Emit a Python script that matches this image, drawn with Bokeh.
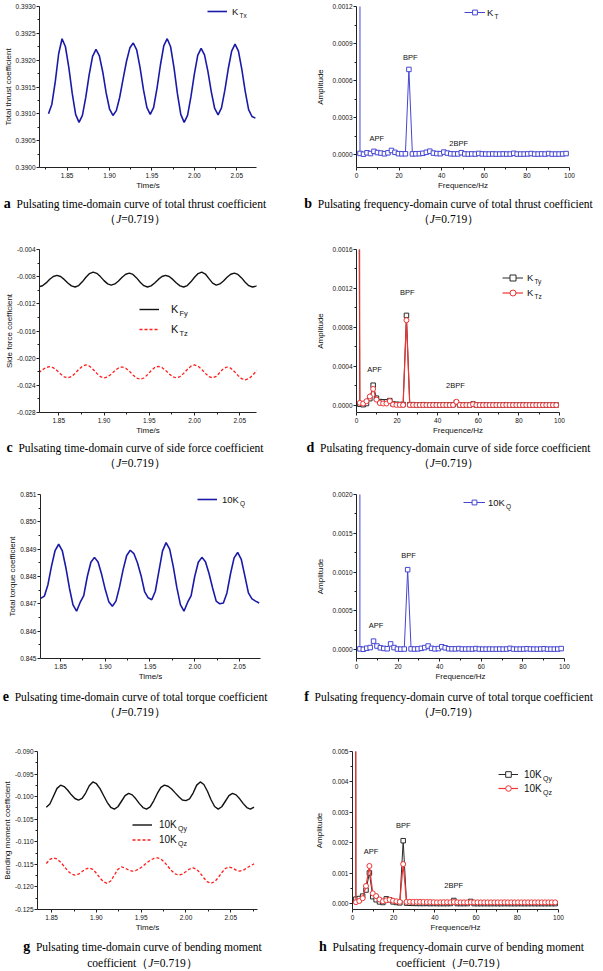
from bokeh.plotting import figure
from bokeh.models import (Range1d, FixedTicker, PrintfTickFormatter, Legend,
                          LegendItem, Label, Div)
from bokeh.layouts import column, row
from bokeh.embed import file_html
from bokeh.resources import INLINE

# ---------------- data ----------------
time_s = [1.828, 1.832, 1.836, 1.840, 1.844, 1.848, 1.852, 1.856, 1.860, 1.864,
          1.868, 1.872, 1.876, 1.880, 1.884, 1.888, 1.892, 1.896, 1.900, 1.904,
          1.908, 1.912, 1.916, 1.920, 1.924, 1.928, 1.932, 1.936, 1.940, 1.944,
          1.948, 1.952, 1.956, 1.960, 1.964, 1.968, 1.972, 1.976, 1.980, 1.984,
          1.988, 1.992, 1.996, 2.000, 2.004, 2.008, 2.012, 2.016, 2.020, 2.024,
          2.028, 2.032, 2.036, 2.040, 2.044, 2.048, 2.052, 2.056, 2.060, 2.064,
          2.068, 2.072, 2.076]

k_tx = [0.39100, 0.39118, 0.39160, 0.39212, 0.39240,
        0.39225, 0.39186, 0.39138, 0.39099, 0.39084,
        0.39097, 0.39131, 0.39173, 0.39207, 0.39220,
        0.39208, 0.39178, 0.39139, 0.39109, 0.39097,
        0.39106, 0.39131, 0.39165, 0.39198, 0.39223, 0.39232,
        0.39219, 0.39186, 0.39145, 0.39112, 0.39099,
        0.39112, 0.39148, 0.39191, 0.39227, 0.39240,
        0.39225, 0.39186, 0.39138, 0.39099, 0.39084,
        0.39097, 0.39132, 0.39174, 0.39209, 0.39222,
        0.39210, 0.39179, 0.39141, 0.39110, 0.39098,
        0.39111, 0.39144, 0.39184, 0.39217, 0.39230,
        0.39217, 0.39183, 0.39142, 0.39108, 0.39095, 0.39092]

k_fy = [-0.00950, -0.00934, -0.00892, -0.00839, -0.00797, -0.00781,
        -0.00797, -0.00840, -0.00893, -0.00936, -0.00952,
        -0.00931, -0.00876, -0.00809, -0.00754, -0.00733,
        -0.00751, -0.00799, -0.00858, -0.00906, -0.00924,
        -0.00907, -0.00863, -0.00809, -0.00765, -0.00748,
        -0.00767, -0.00818, -0.00882, -0.00933, -0.00952,
        -0.00936, -0.00893, -0.00840, -0.00797, -0.00781,
        -0.00797, -0.00840, -0.00893, -0.00936, -0.00952,
        -0.00931, -0.00876, -0.00809, -0.00754, -0.00733,
        -0.00761, -0.00829, -0.00896, -0.00924,
        -0.00907, -0.00863, -0.00809, -0.00765, -0.00748,
        -0.00767, -0.00818, -0.00882, -0.00933, -0.00952,
        -0.00940, -0.00915]

k_tz = [-0.02215, -0.02170, -0.02137, -0.02125,
        -0.02141, -0.02182, -0.02233, -0.02274, -0.02290,
        -0.02272, -0.02224, -0.02166, -0.02118, -0.02100,
        -0.02118, -0.02166, -0.02224, -0.02272, -0.02290,
        -0.02275, -0.02235, -0.02185, -0.02145, -0.02130,
        -0.02147, -0.02192, -0.02248, -0.02293, -0.02310,
        -0.02292, -0.02244, -0.02186, -0.02138, -0.02120,
        -0.02136, -0.02179, -0.02231, -0.02274, -0.02290,
        -0.02272, -0.02224, -0.02166, -0.02118, -0.02100,
        -0.02118, -0.02166, -0.02224, -0.02272, -0.02290,
        -0.02267, -0.02210, -0.02153, -0.02130,
        -0.02148, -0.02196, -0.02254, -0.02302, -0.02320,
        -0.02302, -0.02254, -0.02196, -0.02148]

ten_kq = [0.84720, 0.84728, 0.84770, 0.84838, 0.84895, 0.84918,
          0.84895, 0.84833, 0.84758, 0.84696, 0.84673,
          0.84705, 0.84730, 0.84800, 0.84852, 0.84870,
          0.84853, 0.84808, 0.84753, 0.84708, 0.84691,
          0.84710, 0.84762, 0.84825, 0.84877, 0.84896,
          0.84884, 0.84850, 0.84804, 0.84745, 0.84722, 0.84715,
          0.84746, 0.84820, 0.84893, 0.84924,
          0.84900, 0.84837, 0.84760, 0.84697, 0.84673,
          0.84705, 0.84730, 0.84800, 0.84852, 0.84870,
          0.84854, 0.84811, 0.84758, 0.84710, 0.84700,
          0.84703, 0.84740, 0.84810, 0.84868, 0.84888,
          0.84863, 0.84802, 0.84740, 0.84718, 0.84710, 0.84703]

# bending moment series start at the 5th time sample
ten_kqy = [-0.10235, -0.10164, -0.09991, -0.09817, -0.09746,
           -0.09777, -0.09858, -0.09960, -0.10041, -0.10075,
           -0.10040, -0.09920, -0.09760, -0.09674,
           -0.09714, -0.09824, -0.09975, -0.10125, -0.10235, -0.10275,
           -0.10224, -0.10102, -0.09979, -0.09928,
           -0.09961, -0.10048, -0.10155, -0.10242, -0.10275,
           -0.10225, -0.10092, -0.09929, -0.09796, -0.09746,
           -0.09769, -0.09831, -0.09917, -0.10002, -0.10075, -0.10087,
           -0.10050, -0.09920, -0.09745, -0.09674,
           -0.09731, -0.09881, -0.10068, -0.10218, -0.10275,
           -0.10224, -0.10102, -0.09979, -0.09928,
           -0.09961, -0.10048, -0.10155, -0.10242, -0.10275, -0.10232]

ten_kqz = [-0.11480, -0.11390, -0.11355,
           -0.11381, -0.11451, -0.11547, -0.11643, -0.11713, -0.11739,
           -0.11716, -0.11660, -0.11603, -0.11580,
           -0.11612, -0.11697, -0.11803, -0.11888, -0.11920,
           -0.11867, -0.11739, -0.11611, -0.11558,
           -0.11582, -0.11628, -0.11652,
           -0.11637, -0.11596, -0.11537, -0.11470, -0.11411, -0.11370, -0.11355,
           -0.11381, -0.11451, -0.11547, -0.11643, -0.11713, -0.11739,
           -0.11716, -0.11660, -0.11603, -0.11580,
           -0.11612, -0.11697, -0.11803, -0.11888, -0.11920,
           -0.11886, -0.11795, -0.11683, -0.11592, -0.11558,
           -0.11582, -0.11628, -0.11652,
           -0.11630, -0.11580, -0.11530, -0.11490]

freq_hz = [0.0, 1.64, 3.28, 4.92, 6.56, 8.2, 9.84, 11.48, 13.12, 14.76,
           16.4, 18.04, 19.68, 21.32, 22.96, 24.6, 26.24, 27.88, 29.52, 31.16,
           32.8, 34.44, 36.08, 37.72, 39.36, 41.0, 42.64, 44.28, 45.92, 47.56,
           49.2, 50.84, 52.48, 54.12, 55.76, 57.4, 59.04, 60.68, 62.32, 63.96,
           65.6, 67.24, 68.88, 70.52, 72.16, 73.8, 75.44, 77.08, 78.72, 80.36,
           82.0, 83.64, 85.28, 86.92, 88.56, 90.2, 91.84, 93.48, 95.12, 96.76,
           98.4]

amp_kt = [0.3916, 9e-6, 3e-6, 14e-6, 8e-6, 26e-6, 16e-6, 12e-6, 6e-6, 14e-6,
          33e-6, 18e-6, 7e-6, 6e-6, 6e-6, 690e-6, 5e-6, 6e-6, 7e-6, 10e-6,
          18e-6, 27e-6, 12e-6, 8e-6, 7e-6, 20e-6, 12e-6, 6e-6, 5e-6, 5e-6,
          15e-6, 5e-6, 4e-6, 5e-6, 4e-6, 9e-6, 5e-6, 4e-6, 4e-6, 5e-6,
          4e-6, 4e-6, 5e-6, 4e-6, 4e-6, 10e-6, 4e-6, 4e-6, 4e-6, 5e-6,
          8e-6, 4e-6, 4e-6, 5e-6, 4e-6, 8e-6, 4e-6, 4e-6, 4e-6, 5e-6,
          8e-6]

amp_kty = [0.0086, 12e-6, 8e-6, 20e-6, 70e-6, 208e-6, 75e-6, 40e-6, 38e-6, 38e-6,
           50e-6, 15e-6, 12e-6, 10e-6, 10e-6, 924e-6, 8e-6, 8e-6, 6e-6, 7e-6,
           8e-6, 6e-6, 5e-6, 6e-6, 7e-6, 5e-6, 6e-6, 5e-6, 6e-6, 7e-6,
           30e-6, 5e-6, 5e-6, 4e-6, 5e-6, 15e-6, 5e-6, 4e-6, 4e-6, 5e-6,
           4e-6, 4e-6, 5e-6, 4e-6, 4e-6, 6e-6, 4e-6, 4e-6, 4e-6, 5e-6,
           5e-6, 4e-6, 4e-6, 5e-6, 4e-6, 5e-6, 4e-6, 4e-6, 4e-6, 4e-6,
           5e-6]

amp_ktz = [0.0222, 27e-6, 20e-6, 44e-6, 92e-6, 170e-6, 60e-6, 25e-6, 20e-6, 20e-6,
           45e-6, 10e-6, 6e-6, 6e-6, 5e-6, 875e-6, 5e-6, 5e-6, 4e-6, 5e-6,
           5e-6, 4e-6, 4e-6, 5e-6, 4e-6, 4e-6, 5e-6, 4e-6, 4e-6, 5e-6,
           38e-6, 5e-6, 4e-6, 4e-6, 4e-6, 12e-6, 4e-6, 4e-6, 4e-6, 4e-6,
           4e-6, 4e-6, 4e-6, 4e-6, 4e-6, 5e-6, 4e-6, 4e-6, 4e-6, 4e-6,
           4e-6, 4e-6, 4e-6, 4e-6, 4e-6, 4e-6, 4e-6, 4e-6, 4e-6, 4e-6,
           4e-6]

amp_10kq = [0.848, 8e-6, 3e-6, 17e-6, 25e-6, 108e-6, 45e-6, 22e-6, 14e-6, 10e-6,
            72e-6, 25e-6, 6e-6, 5e-6, 6e-6, 1030e-6, 8e-6, 6e-6, 8e-6, 15e-6,
            25e-6, 45e-6, 15e-6, 8e-6, 12e-6, 35e-6, 22e-6, 10e-6, 8e-6, 8e-6,
            12e-6, 6e-6, 6e-6, 7e-6, 6e-6, 12e-6, 6e-6, 5e-6, 5e-6, 6e-6,
            5e-6, 5e-6, 6e-6, 5e-6, 6e-6, 15e-6, 6e-6, 5e-6, 5e-6, 6e-6,
            10e-6, 6e-6, 5e-6, 5e-6, 6e-6, 10e-6, 5e-6, 5e-6, 5e-6, 6e-6,
            12e-6]

amp_10kqy = [0.1010, 150e-6, 170e-6, 250e-6, 450e-6, 1010e-6, 230e-6, 130e-6, 60e-6, 40e-6,
             160e-6, 130e-6, 60e-6, 40e-6, 30e-6, 2070e-6, 20e-6, 15e-6, 12e-6, 10e-6,
             8e-6, 8e-6, 10e-6, 6e-6, 8e-6, 6e-6, 5e-6, 6e-6, 5e-6, 8e-6,
             106e-6, 6e-6, 5e-6, 5e-6, 6e-6, 74e-6, 5e-6, 4e-6, 4e-6, 5e-6,
             4e-6, 4e-6, 5e-6, 4e-6, 4e-6, 6e-6, 4e-6, 4e-6, 4e-6, 5e-6,
             4e-6, 4e-6, 4e-6, 5e-6, 4e-6, 4e-6, 4e-6, 4e-6, 4e-6, 4e-6,
             4e-6]

amp_10kqz = [0.1169, 50e-6, 90e-6, 180e-6, 583e-6, 1240e-6, 340e-6, 250e-6, 140e-6, 80e-6,
             110e-6, 130e-6, 100e-6, 80e-6, 60e-6, 1300e-6, 60e-6, 65e-6, 60e-6, 62e-6,
             60e-6, 58e-6, 55e-6, 55e-6, 50e-6, 45e-6, 48e-6, 50e-6, 50e-6, 48e-6,
             55e-6, 48e-6, 45e-6, 45e-6, 45e-6, 50e-6, 45e-6, 45e-6, 45e-6, 45e-6,
             45e-6, 45e-6, 45e-6, 45e-6, 45e-6, 48e-6, 45e-6, 45e-6, 45e-6, 45e-6,
             45e-6, 45e-6, 45e-6, 45e-6, 45e-6, 45e-6, 45e-6, 45e-6, 45e-6, 45e-6,
             45e-6]

time_ticks = [1.85, 1.90, 1.95, 2.00, 2.05]
freq_ticks = [0, 20, 40, 60, 80, 100]
a_yticks = [0.3900, 0.3905, 0.3910, 0.3915, 0.3920, 0.3925, 0.3930]
b_yticks = [0.0, 0.0003, 0.0006, 0.0009, 0.0012]
c_yticks = [-0.028, -0.024, -0.020, -0.016, -0.012, -0.008, -0.004]
d_yticks = [0.0, 0.0004, 0.0008, 0.0012, 0.0016]
e_yticks = [0.845, 0.846, 0.847, 0.848, 0.849, 0.850, 0.851]
f_yticks = [0.0, 0.0005, 0.0010, 0.0015, 0.0020]
g_yticks = [-0.125, -0.120, -0.115, -0.110, -0.105, -0.100, -0.095, -0.090]
h_yticks = [0.0, 0.001, 0.002, 0.003, 0.004, 0.005]

# ---------------- styling ----------------
SANS = "Liberation Sans"
AXC = "#222222"
BLUE_T = "#1a1aa8"
BLUE_F = "#4646d2"
BLACK = "#111111"
RED = "#ff1c1c"
DBLACK = "#2a2a2a"
DRED = "#f03434"

t_main = time_s[:62]
t_g = time_s[4:]


def base_fig(w, h, xr, yr, bl, br, bt, bb):
    p = figure(width=w, height=h, x_range=Range1d(*xr), y_range=Range1d(*yr),
               output_backend="svg", toolbar_location=None, title=None,
               min_border_left=bl, min_border_right=br,
               min_border_top=bt, min_border_bottom=bb)
    p.xgrid.visible = False
    p.ygrid.visible = False
    p.outline_line_color = None
    p.background_fill_color = "white"
    p.border_fill_color = "white"
    return p


def style_axes(p, xt, xfmt, yt, yfmt, xlabel, ylabel, ylab_standoff):
    for ax, ticks, fmt, lab in ((p.xaxis[0], xt, xfmt, xlabel),
                                (p.yaxis[0], yt, yfmt, ylabel)):
        step = ticks[1] - ticks[0]
        minor = ([ticks[0] - step / 2] +
                 [(a + b) / 2 for a, b in zip(ticks[:-1], ticks[1:])] +
                 [ticks[-1] + step / 2])
        ax.ticker = FixedTicker(ticks=ticks, minor_ticks=minor)
        ax.formatter = PrintfTickFormatter(format=fmt)
        ax.axis_label = lab
        ax.axis_label_text_font = SANS
        ax.axis_label_text_font_size = "8px"
        ax.axis_label_text_font_style = "normal"
        ax.axis_label_text_color = "#111111"
        ax.major_label_text_font = SANS
        ax.major_label_text_font_size = "6.5px"
        ax.major_label_text_color = "#111111"
        ax.axis_line_color = AXC
        ax.major_tick_line_color = AXC
        ax.minor_tick_line_color = AXC
        ax.major_tick_in = 0
        ax.major_tick_out = 3
        ax.minor_tick_in = 0
        ax.minor_tick_out = 2
    p.xaxis[0].major_label_standoff = 2
    p.xaxis[0].axis_label_standoff = 0
    p.yaxis[0].major_label_standoff = 1
    p.yaxis[0].axis_label_standoff = ylab_standoff


def add_legend(p, items, vx, vy, gw, standoff, h, font):
    leg = Legend(items=[LegendItem(label=lab, renderers=rs) for lab, rs in items],
                 location=(vx, vy), padding=0, spacing=0, margin=0,
                 glyph_width=gw, glyph_height=h, label_height=h,
                 label_standoff=standoff, label_text_font=SANS,
                 label_text_font_size=f"{font}px", label_text_color="#111111",
                 border_line_color=None, background_fill_alpha=0)
    p.add_layout(leg)


def sub(p, text, x, y, size):
    p.add_layout(Label(x=x, y=y, x_units="screen", y_units="screen", text=text,
                       text_font=SANS, text_font_size=f"{size}px",
                       text_color="#111111", text_align="left",
                       text_baseline="middle"))


def note(p, text, x, y):
    p.add_layout(Label(x=x, y=y, text=text, text_font=SANS,
                       text_font_size="7.5px", text_color="#111111",
                       text_align="center", text_baseline="middle"))


def caption(letter, line1, line2, width, inner_w, height, pad_top, lh):
    html = ('<div style="width:%dpx;padding-top:%spx;line-height:%spx;'
            'text-align:center;white-space:nowrap;'
            'font-family:\'Liberation Serif\',serif;font-size:11.5px;color:#000">'
            '<b style="font-size:14px">%s</b>&nbsp;&nbsp;%s<br>%s</div>'
            % (inner_w, pad_top, lh, letter, line1, line2))
    return Div(text=html, width=width, height=height, margin=0)


J = "（<i>J</i>=0.719）"

# ---------------- a ----------------
pa = base_fig(312, 192, (1.8174, 2.0733), (0.3900, 0.3930), 36, 56, 5, 24)
style_axes(pa, time_ticks, "%.2f", a_yticks, "%.4f", "Time/s",
           "Total thrust coefficient", 0)
ra = pa.line(t_main, k_tx, line_color=BLUE_T, line_width=1.6)
add_legend(pa, [("K", [ra])], 168, 150, 20, 5, 12, 9.5)
sub(pa, "Tx", 200, 152.5, 6.5)

# ---------------- b ----------------
pb = base_fig(291, 192, (0, 100), (-0.000105, 0.0012), 39, 34, 6, 24)
style_axes(pb, freq_ticks, "%d", b_yticks, "%.4f", "Frequence/Hz", "Amplitude", 5)
rbl = pb.line(freq_hz, amp_kt, line_color=BLUE_F, line_width=1)
rbs = pb.scatter(freq_hz, amp_kt, marker="square", size=4.5, line_color=BLUE_F,
                 fill_color="white", line_width=1)
note(pb, "BPF", 25.2, 0.000784)
note(pb, "APF", 9.5, 0.000127)
note(pb, "2BPF", 48, 0.000089)
add_legend(pb, [("K", [rbl, rbs])], 108, 149, 21, 2, 12, 9.5)
sub(pb, "T", 138, 151.5, 6.5)

# ---------------- c ----------------
pc = base_fig(312, 214, (1.8287, 2.0685), (-0.028, -0.004), 39, 56, 23, 23)
style_axes(pc, time_ticks, "%.2f", c_yticks, "%.3f", "Time/s",
           "Side force coefficient", 0)
rc1 = pc.line(t_main, k_fy, line_color=BLACK, line_width=1.4)
rc2 = pc.line(t_main, k_tz, line_color=RED, line_width=1.3, line_dash="3 2")
add_legend(pc, [("K", [rc1]), ("K", [rc2])], 100, 73, 20, 12, 20, 11)
sub(pc, "Fy", 140, 99, 7.5)
sub(pc, "Tz", 140, 79, 7.5)

# ---------------- d ----------------
pd_ = base_fig(291, 214, (0, 100), (-0.000072, 0.0016), 39, 44, 23, 28)
style_axes(pd_, freq_ticks, "%d", d_yticks, "%.4f", "Frequence/Hz", "Amplitude", 5)
rd1 = pd_.line(freq_hz, amp_kty, line_color=DBLACK, line_width=1)
rd1s = pd_.scatter(freq_hz, amp_kty, marker="square", size=4.5, line_color=DBLACK,
                   fill_color="white", line_width=1)
rd2 = pd_.line(freq_hz, amp_ktz, line_color=DRED, line_width=1.2)
rd2s = pd_.scatter(freq_hz, amp_ktz, marker="circle", size=5, line_color=DRED,
                   fill_color="white", line_width=1)
note(pd_, "BPF", 25, 0.001156)
note(pd_, "APF", 8.9, 0.000368)
note(pd_, "2BPF", 48.7, 0.000201)
add_legend(pd_, [("K", [rd1, rd1s]), ("K", [rd2, rd2s])], 146, 112.5, 21, 4, 15, 9.5)
sub(pd_, "Ty", 178, 131.5, 6.5)
sub(pd_, "Tz", 178, 116.5, 6.5)

# ---------------- e ----------------
pe = base_fig(312, 212, (1.8277, 2.0735), (0.845, 0.851), 40, 52, 20, 24)
style_axes(pe, time_ticks, "%.2f", e_yticks, "%.3f", "Time/s",
           "Total torque coefficient", 0)
re_ = pe.line(t_main, ten_kq, line_color=BLUE_T, line_width=1.6)
add_legend(pe, [("10K", [re_])], 157, 153, 20, 5, 12, 9.5)
sub(pe, "Q", 199.5, 155.5, 6.5)

# ---------------- f ----------------
pf = base_fig(291, 212, (0, 100), (-0.000116, 0.002), 39, 39, 20, 28)
style_axes(pf, freq_ticks, "%d", f_yticks, "%.4f", "Frequence/Hz", "Amplitude", 5)
rfl = pf.line(freq_hz, amp_10kq, line_color=BLUE_F, line_width=1)
rfs = pf.scatter(freq_hz, amp_10kq, marker="square", size=4.5, line_color=BLUE_F,
                 fill_color="white", line_width=1)
note(pf, "BPF", 25, 0.001215)
note(pf, "APF", 9.4, 0.00031)
add_legend(pf, [("10K", [rfl, rfs])], 107, 150, 22, 3, 12, 9.5)
sub(pf, "Q", 149.5, 152.5, 6.5)

# ---------------- g ----------------
pg = base_fig(312, 218, (1.8342, 2.0799), (-0.125, -0.090), 35, 55, 33, 24)
style_axes(pg, time_ticks, "%.2f", g_yticks, "%.3f", "Time/s",
           "Bending moment coefficient", 0)
rg1 = pg.line(t_g, ten_kqy, line_color=BLACK, line_width=1.4)
rg2 = pg.line(t_g, ten_kqz, line_color=RED, line_width=1.3, line_dash="3 2")
add_legend(pg, [("10K", [rg1]), ("10K", [rg2])], 95, 62.5, 20, 7, 15, 10)
sub(pg, "Qy", 140.5, 81.5, 7)
sub(pg, "Qz", 140.5, 66.5, 7)

# ---------------- h ----------------
ph = base_fig(291, 218, (0, 100), (-0.00019, 0.005), 39, 45, 29, 27)
style_axes(ph, freq_ticks, "%d", h_yticks, "%.3f", "Frequence/Hz", "Amplitude", 5)
rh1 = ph.line(freq_hz, amp_10kqy, line_color=DBLACK, line_width=1)
rh1s = ph.scatter(freq_hz, amp_10kqy, marker="square", size=4.5, line_color=DBLACK,
                  fill_color="white", line_width=1)
rh2 = ph.line(freq_hz, amp_10kqz, line_color=DRED, line_width=1.2)
rh2s = ph.scatter(freq_hz, amp_10kqz, marker="circle", size=5, line_color=DRED,
                  fill_color="white", line_width=1)
note(ph, "BPF", 24.7, 0.00258)
note(ph, "APF", 9, 0.00172)
note(ph, "2BPF", 49.1, 0.0006)
add_legend(ph, [("10K", [rh1, rh1s]), ("10K", [rh2, rh2s])], 146, 114, 20, 6, 14, 10)
sub(ph, "Qy", 190.5, 131.5, 7)
sub(ph, "Qz", 190.5, 117.5, 7)

# ---------------- captions ----------------
ca = caption("a", "Pulsating time-domain curve of total thrust coefficient", J, 300, 270, 34, 4, 15)
cb = caption("b", "Pulsating frequency-domain curve of total thrust coefficient", J, 303, 297, 34, 4, 15)
cc = caption("c", "Pulsating time-domain curve of side force coefficient", J, 300, 270, 34, 0, 15)
cd = caption("d", "Pulsating frequency-domain curve of side force coefficient", J, 303, 297, 34, 0, 15)
ce = caption("e", "Pulsating time-domain curve of total torque coefficient", J, 300, 270, 32, 3, 15)
cf = caption("f", "Pulsating frequency-domain curve of total torque coefficient", J, 303, 297, 32, 3, 15)
cg = caption("g", "Pulsating time-domain curve of bending moment", "coefficient" + J, 300, 285, 34, 2.5, 16)
ch = caption("h", "Pulsating frequency-domain curve of bending moment", "coefficient" + J, 303, 303, 34, 2.5, 16)

layout = column(row(pa, pb), row(ca, cb),
                row(pc, pd_), row(cc, cd),
                row(pe, pf), row(ce, cf),
                row(pg, ph), row(cg, ch))

open("out.html", "w").write(file_html(layout, INLINE))
